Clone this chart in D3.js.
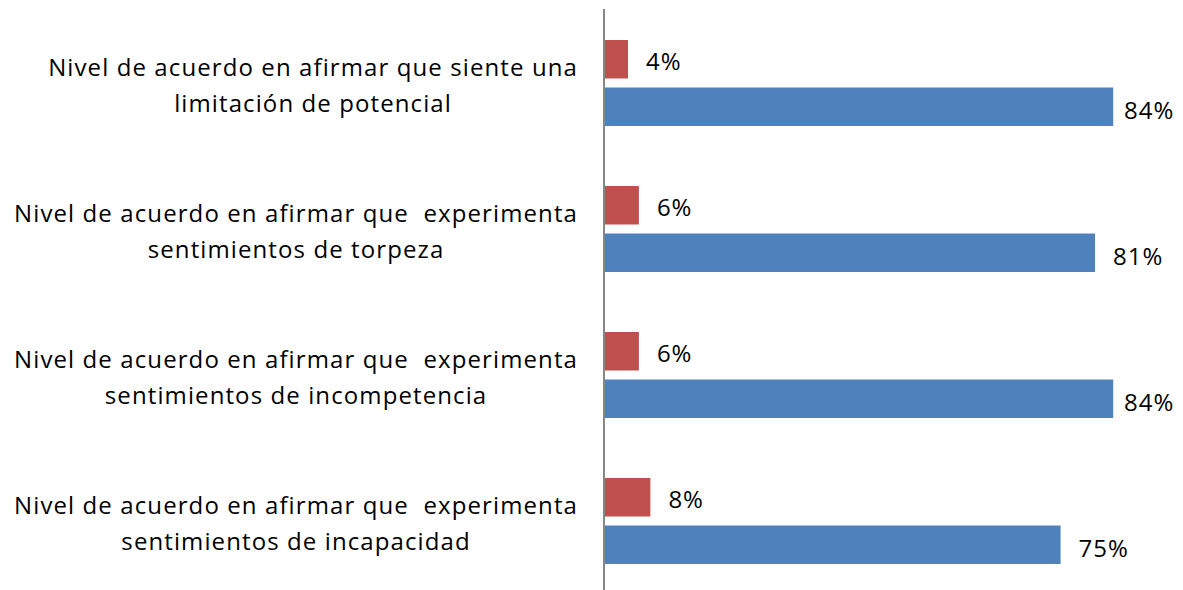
<!DOCTYPE html>
<meta charset="utf-8">
<script src="https://d3js.org/d3.v7.min.js"></script>
<style>
  body { margin: 0; background: #fff; }
  text { font-family: "Open Sans", "Liberation Sans", sans-serif; fill: #000; }
</style>
<body>
<div id="chart"></div>
<script>
    const categories = [
        ["Nivel de acuerdo en afirmar que siente una", "limitación de potencial"],
        ["Nivel de acuerdo en afirmar que  experimenta", "sentimientos de torpeza"],
        ["Nivel de acuerdo en afirmar que  experimenta", "sentimientos de incompetencia"],
        ["Nivel de acuerdo en afirmar que  experimenta", "sentimientos de incapacidad"]
    ];
    const redValues = [3.8, 5.6, 5.6, 7.5];
    const blueValues = [84, 81, 84, 75.3];
    const redLabels = ["4%", "6%", "6%", "8%"];
    const blueLabels = ["84%", "81%", "84%", "75%"];

    const width = 1183, height = 590;
    const axisX = 604;

    const svg = d3.select("#chart").append("svg")
        .attr("width", width)
        .attr("height", height);

    const x = d3.scaleLinear().domain([0, 100]).range([axisX, axisX + 605]);

    const y = d3.scaleBand()
        .domain(d3.range(categories.length))
        .range([9, 593]);

    // red / blue bar positions inside the first group
    const sub = d3.scaleBand()
        .domain(["red", "blue"])
        .range([40, 126])
        .paddingInner(0.19);

    const g = svg.selectAll(".group")
        .data(categories)
        .enter().append("g")
        .attr("transform", (d, i) => "translate(0," + (y(i) - y(0)) + ")");

    g.append("rect")
        .attr("x", x(0) + 1)
        .attr("y", sub("red"))
        .attr("width", (d, i) => x(redValues[i]) - x(0))
        .attr("height", sub.bandwidth())
        .attr("fill", "#C0504D");

    g.append("rect")
        .attr("x", x(0) + 1)
        .attr("y", sub("blue"))
        .attr("width", (d, i) => x(blueValues[i]) - x(0))
        .attr("height", sub.bandwidth())
        .attr("fill", "#4F81BD");

    g.append("text")
        .attr("x", (d, i) => x(redValues[i]) + 19)
        .attr("y", sub("red") + sub.bandwidth() / 2 + 11)
        .style("font-size", "24px")
        .style("letter-spacing", "1px")
        .text((d, i) => redLabels[i]);

    g.append("text")
        .attr("x", (d, i) => Math.min(x(blueValues[i]) + 19, 1124))
        .attr("y", sub("blue") + sub.bandwidth() / 2 + 12)
        .style("font-size", "24px")
        .style("letter-spacing", "1px")
        .text((d, i) => blueLabels[i]);

    const lbl = g.append("text")
        .style("font-size", "24px")
        .style("letter-spacing", "1.1px")
        .style("white-space", "pre");
    lbl.selectAll("tspan")
        .data(d => d)
        .enter().append("tspan")
        .attr("x", 578)
        .attr("y", (d, j) => 76 + j * 36)
        .attr("text-anchor", (d, j) => j === 0 ? "end" : "middle")
        .text(d => d);

    // second line centred under the first one
    lbl.each(function () {
        const t = d3.select(this).selectAll("tspan").nodes();
        const w = t[0].getComputedTextLength();
        d3.select(t[1]).attr("x", 578 - w / 2);
    });

    svg.append("line")
        .attr("x1", axisX).attr("x2", axisX)
        .attr("y1", 9).attr("y2", height)
        .attr("stroke", "#868686")
        .attr("stroke-width", 2);
</script>
</body>
</html>
